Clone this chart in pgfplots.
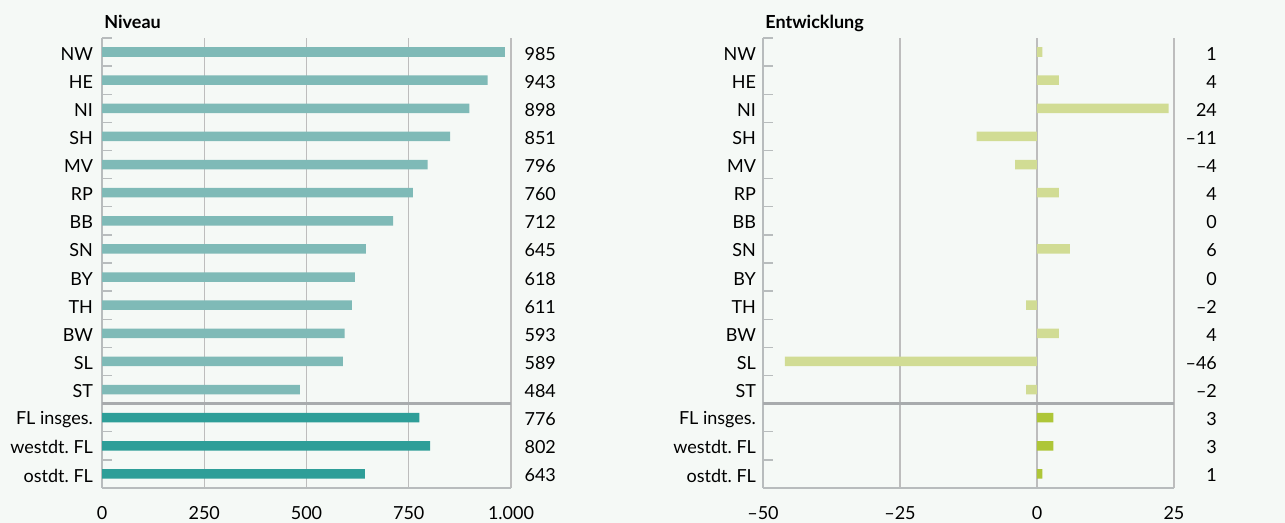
\documentclass[border=0pt]{standalone}
\usepackage{fontspec}
\setmainfont{Lato}
\usepackage{pgfplots}
\pgfplotsset{compat=1.18}
\definecolor{bg}{HTML}{F5F9F6}
\definecolor{teallight}{HTML}{7FBAB7}
\definecolor{tealdark}{HTML}{2E9E98}
\definecolor{greenlight}{HTML}{D1DC94}
\definecolor{greendark}{HTML}{AEC638}
\definecolor{axisgray}{HTML}{B8BCBD}
\definecolor{gridgray}{HTML}{BDBDBD}
\definecolor{sepgray}{HTML}{A8ABAD}
\newcommand{\lbl}{\fontsize{9}{10}\selectfont\frenchspacing}
\frenchspacing
\begin{document}
\begin{tikzpicture}
\fill[bg] (0,0) rectangle (642.5pt,261.5pt);
\useasboundingbox (0,0) rectangle (642.5pt,261.5pt);
\pgfplotsset{panel/.style={
  scale only axis, height=225pt, anchor=south west,
  ymin=-0.5, ymax=15.5,
  ytick={0,...,15},
  yticklabels={{ostdt. FL},{westdt. FL},{FL insges.},ST,SL,BW,TH,BY,SN,BB,RP,MV,SH,NI,HE,NW},
  minor ytick={-0.5,0.5,...,15.5},
  major tick length=0pt, minor tick length=5pt, tick align=inside,
  axis x line*=bottom, axis y line*=left,
  axis line style={draw=axisgray, line width=0.7pt},
  xmajorgrids, grid style={draw=gridgray, line width=0.6pt},
  minor tick style={draw=axisgray, line width=0.7pt},
  tick label style={font=\lbl},
  yticklabel style={yshift=-0.8pt},
  xticklabel style={yshift=-5.5pt},
  clip=false,
}}
\begin{axis}[panel, at={(51pt,17.5pt)}, width=204.5pt,
  xmin=0, xmax=1000, xtick={0,250,500,750,1000},
  xticklabels={0,250,500,750,1.000},
  yticklabel style={xshift=-1pt}]
\addplot[xbar, bar width=4.8pt, bar shift=0pt, fill=teallight, draw=none] coordinates {
(985,15) (943,14) (898,13) (851,12) (796,11) (760,10) (712,9) (645,8)
(618,7) (611,6) (593,5) (589,4) (484,3)};
\addplot[xbar, bar width=4.8pt, bar shift=0pt, fill=tealdark, draw=none] coordinates {
(776,2) (802,1) (643,0)};
\addplot[draw=none, mark=none, nodes near coords, point meta=explicit symbolic,
  every node near coord/.append style={anchor=east, xshift=26pt, yshift=-0.8pt, font=\lbl}]
  coordinates {
(1000,15) [985] (1000,14) [943] (1000,13) [898] (1000,12) [851] (1000,11) [796]
(1000,10) [760] (1000,9) [712] (1000,8) [645] (1000,7) [618] (1000,6) [611]
(1000,5) [593] (1000,4) [589] (1000,3) [484] (1000,2) [776] (1000,1) [802] (1000,0) [643]};
\draw[sepgray, line width=1.3pt] (axis cs:0,2.5) -- (axis cs:1000,2.5);
\node[anchor=base west, inner sep=0pt, xshift=1pt, yshift=4.5pt, font=\bfseries\lbl] at (rel axis cs:0,1) {Niveau};
\end{axis}
\begin{axis}[panel, at={(381.5pt,17.5pt)}, width=205.5pt,
  xmin=-50, xmax=25, xtick={-50,-25,0,25},
  xticklabels={–50,–25,0,25}]
\addplot[xbar, bar width=4.8pt, bar shift=0pt, fill=greenlight, draw=none] coordinates {
(1,15) (4,14) (24,13) (-11,12) (-4,11) (4,10) (6,8) (-2,6) (4,5) (-46,4) (-2,3)};
\addplot[xbar, bar width=4.8pt, bar shift=0pt, fill=greendark, draw=none] coordinates {
(3,2) (3,1) (1,0)};
\addplot[draw=none, mark=none, nodes near coords, point meta=explicit symbolic,
  every node near coord/.append style={anchor=east, xshift=25pt, yshift=-0.8pt, font=\lbl}]
  coordinates {
(25,15) [1] (25,14) [4] (25,13) [24] (25,12) [–11] (25,11) [–4]
(25,10) [4] (25,9) [0] (25,8) [6] (25,7) [0] (25,6) [–2]
(25,5) [4] (25,4) [–46] (25,3) [–2] (25,2) [3] (25,1) [3] (25,0) [1]};
\draw[sepgray, line width=1.3pt] (axis cs:-50,2.5) -- (axis cs:25,2.5);
\node[anchor=base west, inner sep=0pt, xshift=1pt, yshift=4.5pt, font=\bfseries\lbl] at (rel axis cs:0,1) {Entwicklung};
\end{axis}
\end{tikzpicture}
\end{document}
